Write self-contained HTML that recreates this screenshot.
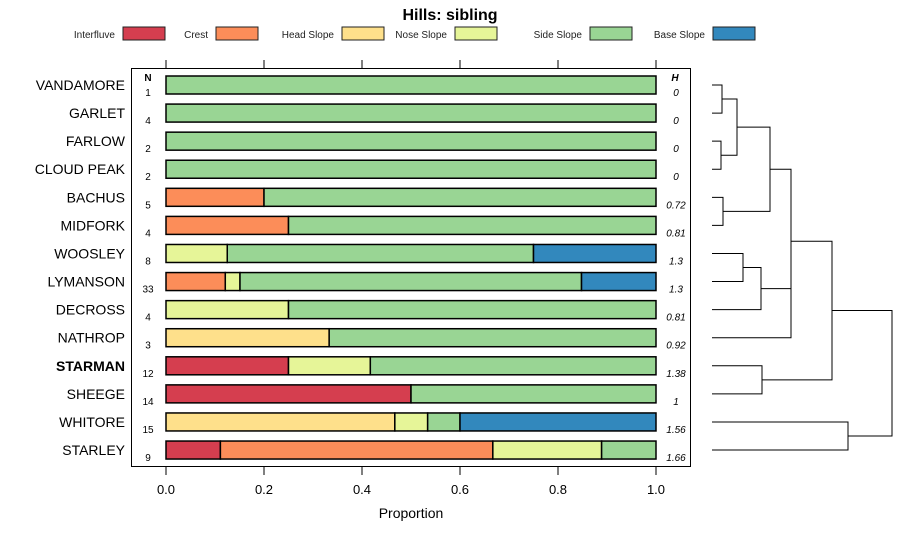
<!DOCTYPE html>
<html><head><meta charset="utf-8"><style>
body{margin:0;background:#fff;}
text{font-family:"Liberation Sans",sans-serif;}
</style></head><body>
<svg width="900" height="540" viewBox="0 0 900 540" xmlns="http://www.w3.org/2000/svg">
<g id="root"></g>
</svg>
<script>
const categories=["VANDAMORE","GARLET","FARLOW","CLOUD PEAK","BACHUS","MIDFORK","WOOSLEY","LYMANSON","DECROSS","NATHROP","STARMAN","SHEEGE","WHITORE","STARLEY"];
const classes=["Interfluve","Crest","Head Slope","Nose Slope","Side Slope","Base Slope"];
const colors=["#D53E4F","#FC8D59","#FEE08B","#E6F598","#99D594","#3288BD"];
const interfluve=[0,0,0,0,0,0,0,0,0,0,0.25,0.5,0,0.111];
const crest=[0,0,0,0,0.2,0.25,0,0.121,0,0,0,0,0,0.556];
const headSlope=[0,0,0,0,0,0,0,0,0,0.333,0,0,0.467,0];
const noseSlope=[0,0,0,0,0,0,0.125,0.03,0.25,0,0.167,0,0.067,0.222];
const sideSlope=[1,1,1,1,0.8,0.75,0.625,0.697,0.75,0.667,0.583,0.5,0.066,0.111];
const baseSlope=[0,0,0,0,0,0,0.25,0.152,0,0,0,0,0.4,0];
const nValues=["1","4","2","2","5","4","8","33","4","3","12","14","15","9"];
const hValues=["0","0","0","0","0.72","0.81","1.3","1.3","0.81","0.92","1.38","1","1.56","1.66"];
const xTicks=[0,0.2,0.4,0.6,0.8,1.0];
const xTickLabels=["0.0","0.2","0.4","0.6","0.8","1.0"];
// dendrogram merges: [left, right, height]; negative = leaf index, positive = merge index (1-based)
const merges=[[-1,-2,0.1],[-3,-4,0.09],[1,2,0.25],[-5,-6,0.11],[3,4,0.58],[-7,-8,0.31],[6,-9,0.49],[7,-10,0.79],[5,8,0.79],[-11,-12,0.5],[9,10,1.2],[-13,-14,1.36],[11,12,1.8]];

const NS="http://www.w3.org/2000/svg";
const root=document.getElementById('root');
function mk(tag,attrs,parent){const e=document.createElementNS(NS,tag);for(const k in attrs)e.setAttribute(k,attrs[k]);(parent||root).appendChild(e);return e;}
const X=v=>166+v*490;
const Y=i=>85+i*28.08;
const series=[interfluve,crest,headSlope,noseSlope,sideSlope,baseSlope];

// title
let t=mk('text',{x:450,y:20,'text-anchor':'middle','font-size':16,'font-weight':'bold'});t.textContent="Hills: sibling";


// legend
const legX=[123,216,342,455,590,713];
classes.forEach((c,k)=>{
 const g=mk('g',{});
 
 
 const tt=mk('text',{x:legX[k]-8,y:38,'text-anchor':'end','font-size':10,fill:'#222'},g);tt.textContent=c;
 mk('rect',{x:legX[k],y:27,width:42,height:13,fill:colors[k],stroke:'#222','stroke-width':1},g);
});
// plot box
const box=mk('rect',{x:131.5,y:68.5,width:559,height:398,fill:'none',stroke:'#000','stroke-width':1});


// ticks
xTicks.forEach((v,k)=>{
 mk('line',{x1:X(v),x2:X(v),y1:60,y2:68,stroke:'#000'});
 mk('line',{x1:X(v),x2:X(v),y1:467,y2:475,stroke:'#000'});
 const l=mk('text',{x:X(v),y:494,'text-anchor':'middle','font-size':13});l.textContent=xTickLabels[k];
 
 
});
let xt=mk('text',{x:411,y:518,'text-anchor':'middle','font-size':14});xt.textContent="Proportion";


let nh=mk('text',{x:148,y:81,'text-anchor':'middle','font-size':10,'font-weight':'bold'});nh.textContent="N";


let hh=mk('text',{x:675,y:81,'text-anchor':'middle','font-size':10,'font-weight':'bold','font-style':'italic'});hh.textContent="H";


// rows
categories.forEach((c,i)=>{
 const y=Y(i);
 const lab=mk('text',{x:125,y:y+5,'text-anchor':'end','font-size':14,'font-weight':c==="STARMAN"?'bold':'normal'});lab.textContent=c;
 
 
 const n=mk('text',{x:148,y:y+11,'text-anchor':'middle','font-size':10});n.textContent=nValues[i];
 
 
 const h=mk('text',{x:676,y:y+11,'text-anchor':'middle','font-size':10,'font-style':'italic'});h.textContent=hValues[i];
 
 
 let acc=0;
 series.forEach((s,k)=>{
  const v=s[i];if(v<=0)return;
  const r=mk('rect',{x:X(acc),y:y-9,width:X(acc+v)-X(acc),height:18,fill:colors[k],stroke:'#000','stroke-width':1.5});
  
  
  acc+=v;
 });
});
// dendrogram
const D=h=>712+h*100;
const pos=[];
const dg=mk('g',{stroke:'#000','stroke-width':1,fill:'none'});


function node(id){return id<0?{y:Y(-id-1),x:712}:pos[id-1];}
merges.forEach(m=>{
 const a=node(m[0]),b=node(m[1]),x=D(m[2]);
 mk('polyline',{points:`${a.x},${a.y} ${x},${a.y} ${x},${b.y} ${b.x},${b.y}`},dg);
 pos.push({x:x,y:(a.y+b.y)/2});
});
</script>
</body></html>
